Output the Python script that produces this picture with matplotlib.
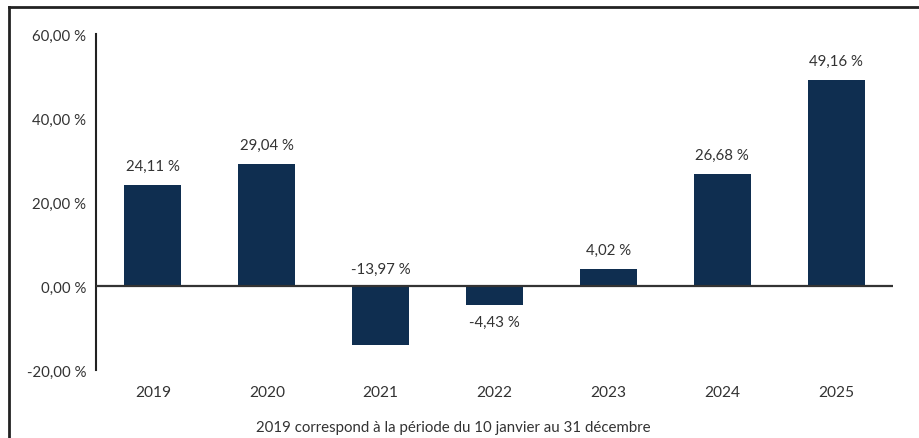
import matplotlib
matplotlib.use('Agg')
import matplotlib.pyplot as plt
from matplotlib.lines import Line2D

plt.rcParams['font.family'] = ['Lato', 'DejaVu Sans']

# données
annees = ['2019', '2020', '2021', '2022', '2023', '2024', '2025']
rendements = [24.11, 29.04, -13.97, -4.43, 4.02, 26.68, 49.16]
ticks_y = [-20, 0, 20, 40, 60]
note = '2019 correspond à la période du 10 janvier au 31 décembre'

couleur_barre = '#0f2e50'
couleur_texte = '#333333'
taille = 10.8


def fmt(v):
    return f'{v:.2f}'.replace('.', ',') + ' %'


fig = plt.figure(figsize=(9.19, 4.39), dpi=100)
W, H = 919, 439
ax = fig.add_axes([96 / W, 1 - 371 / H, (893 - 96) / W, (371 - 35) / H])

x = range(len(annees))
ax.bar(x, rendements, width=0.5, color=couleur_barre, zorder=2)

ax.set_xlim(-0.5, len(annees) - 0.5)
ax.set_ylim(-20, 60)
ax.set_yticks(ticks_y)
ax.set_yticklabels([fmt(t) for t in ticks_y], fontsize=taille, color=couleur_texte)
ax.set_xticks([])
ax.tick_params(axis='y', length=0, pad=7)

for s in ['top', 'right', 'bottom']:
    ax.spines[s].set_visible(False)
ax.spines['left'].set_color('#222222')
ax.spines['left'].set_linewidth(1.5)
ax.axhline(0, color='#333333', linewidth=1.6, zorder=3)

# étiquettes des valeurs
for i, v in enumerate(rendements):
    if v >= 0:
        ax.text(i, v + 4.5, fmt(v), ha='center', va='center', fontsize=taille, color=couleur_texte)
    elif v > -10:
        ax.text(i, v - 4.1, fmt(v), ha='center', va='center', fontsize=taille, color=couleur_texte)
    else:
        # étiquette au-dessus de l'axe pour les grosses baisses
        ax.text(i, 4.0, fmt(v), ha='center', va='center', fontsize=taille, color=couleur_texte)

# années sous l'axe
for i, a in enumerate(annees):
    ax.text(i, -25.2, a, ha='center', va='center', fontsize=taille + 0.4, color=couleur_texte,
            clip_on=False)

fig.text(453 / W, 1 - 428 / H, note, ha='center', va='center', fontsize=taille, color=couleur_texte)

# cadre
fig.add_artist(Line2D([9 / W, 9 / W], [0, 1 - 8 / H], color='#222222', linewidth=2))
fig.add_artist(Line2D([9 / W, 1], [1 - 8 / H, 1 - 8 / H], color='#222222', linewidth=2))

fig.savefig('out.png', dpi=100)
